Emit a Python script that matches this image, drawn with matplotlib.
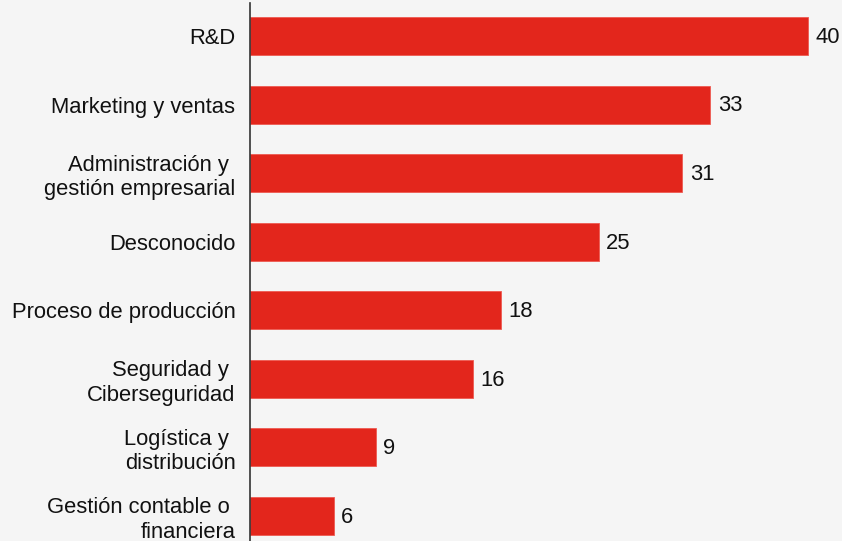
import matplotlib
matplotlib.use("Agg")
import matplotlib.pyplot as plt

categories = [
    "R&D",
    "Marketing y ventas",
    "Administración y \ngestión empresarial",
    "Desconocido",
    "Proceso de producción",
    "Seguridad y \nCiberseguridad",
    "Logística y \ndistribución",
    "Gestión contable o \nfinanciera",
]
values = [40, 33, 31, 25, 18, 16, 9, 6]

bg = "#f5f5f5"
bar_color = "#e3261c"

plt.rcParams["font.family"] = ["Liberation Sans", "DejaVu Sans"]

fig = plt.figure(figsize=(8.42, 5.41), dpi=100, facecolor=bg)
ax = fig.add_axes([250 / 842, 0, 1 - 250 / 842, 1 - 3 / 541])
ax.set_facecolor(bg)

pos = list(range(len(categories)))
ax.barh(pos, values, height=0.555, color=bar_color, edgecolor="#ee5a52", linewidth=0.6)

for p, v in zip(pos, values):
    ax.text(v + 0.55, p + 0.02, str(v), va="center", ha="left", fontsize=15.8, color="#111111")

ax.set_xlim(0, 42.45)
ax.set_ylim(7.365, -0.481)
ax.set_yticks(pos)
ax.set_yticklabels(categories, fontsize=15.8, color="#111111", linespacing=1.2)
ax.tick_params(axis="y", length=0, pad=10.5)
ax.set_xticks([])

for side in ["top", "right", "bottom"]:
    ax.spines[side].set_visible(False)
ax.spines["left"].set_color("#333333")
ax.spines["left"].set_linewidth(1.2)

fig.savefig("out.png", dpi=100, facecolor=bg)
